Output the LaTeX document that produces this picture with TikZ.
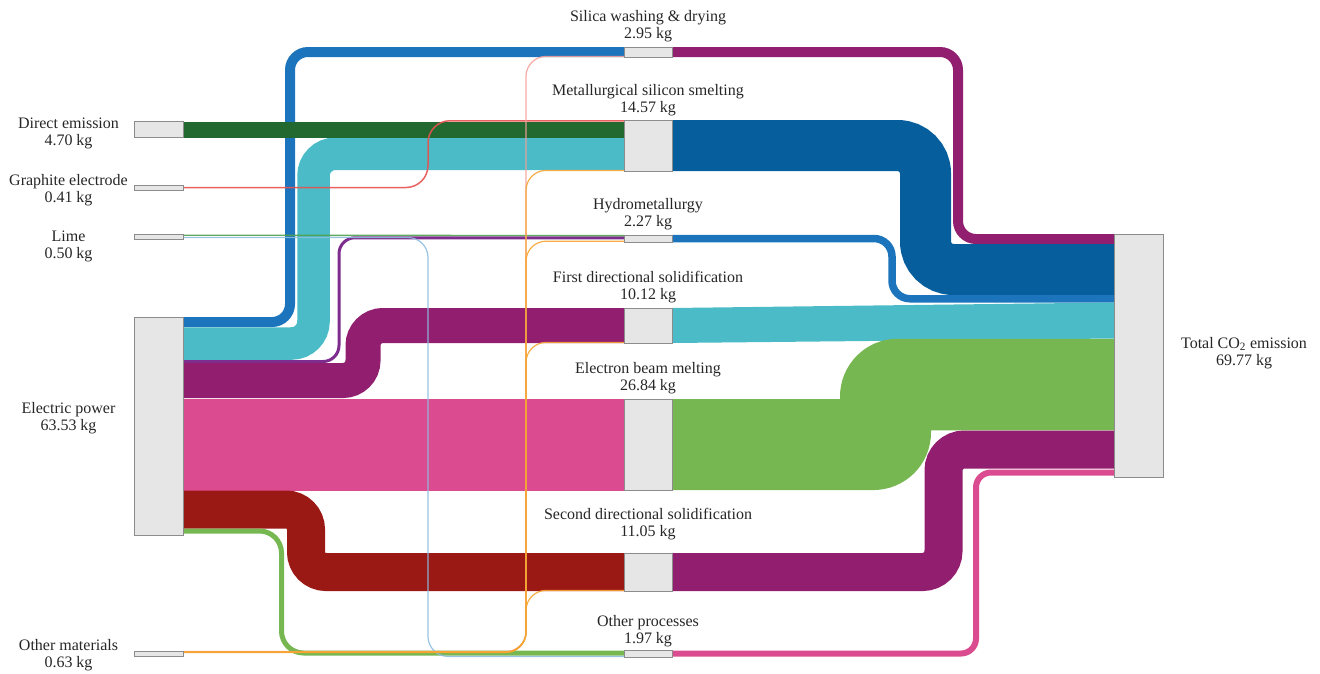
\documentclass[tikz,border=0pt]{standalone}
\usepackage{fontspec}
\setmainfont{Liberation Serif}
\usetikzlibrary{calc,backgrounds}
\definecolor{cBlue}{HTML}{1C75BC}
\definecolor{cCyan}{HTML}{4BBCC7}
\definecolor{cDGreen}{HTML}{22692F}
\definecolor{cRed}{HTML}{E8514F}
\definecolor{cPurple}{HTML}{921E70}
\definecolor{cViolet}{HTML}{7E2C8E}
\definecolor{cPink}{HTML}{DB4B8F}
\definecolor{cDRed}{HTML}{9B1915}
\definecolor{cGreen}{HTML}{76B751}
\definecolor{cNavy}{HTML}{075E9C}
\definecolor{cLime}{HTML}{4FA24F}
\definecolor{cLBlue}{HTML}{8DBCE0}
\definecolor{cOrange}{HTML}{F6A532}
\definecolor{cSalmon}{HTML}{F4A09A}
\definecolor{boxfill}{HTML}{E6E6E6}
\definecolor{boxline}{HTML}{8C8C8C}
\tikzset{
  box/.style={draw=boxline, fill=boxfill, line width=1pt, inner sep=0pt, outer sep=0pt, minimum width=49pt},
  mbox/.style={box, minimum width=48pt},
  lab/.style={align=center, inner sep=0pt, font=\fontsize{16}{17}\selectfont, text=black!85},
  band/.style={line cap=butt, line join=miter},
  wire/.style={line cap=butt, draw opacity=0.9},
}
\begin{document}
\begin{tikzpicture}[x=1pt,y=-1pt]
\useasboundingbox (0,0) rectangle (1320,673);
% left column
\node[box, minimum height=16pt] (de) at (158.5,129.5) {};
\node[box, minimum height=5pt] (ge) at (158.5,187.5) {};
\node[box, minimum height=5pt] (li) at (158.5,236.5) {};
\node[box, minimum height=218pt] (ep) at (158.5,426) {};
\node[box, minimum height=5pt] (om) at (158.5,653.5) {};
% middle column
\node[mbox, minimum height=10pt] (sw) at (648,52) {};
\node[mbox, minimum height=51pt] (ms) at (648,145.5) {};
\node[mbox, minimum height=7pt] (hy) at (648,238.5) {};
\node[mbox, minimum height=35pt] (fd) at (648,325.5) {};
\node[mbox, minimum height=91pt] (eb) at (648,444.5) {};
\node[mbox, minimum height=38pt] (sd) at (648,572) {};
\node[mbox, minimum height=7pt] (op) at (648,653.5) {};
% right
\node[box, minimum height=243pt] (tot) at (1138.5,355.5) {};

\begin{scope}[on background layer]
% electric power outputs
\draw[band, cBlue, line width=10pt, rounded corners=18pt] ($(ep.north east)+(0,5)$) -- ++(107,0) |- ($(sw.north west)+(0,5)$);
\draw[band, cCyan, line width=32.5pt, rounded corners=22pt] ($(ep.north east)+(0,26.5)$) -- ++(130.5,0) |- ($(ms.north west)+(0,33.75)$);
\draw[band, cViolet, line width=3pt, rounded corners=16pt] ($(ep.north east)+(0,44.5)$) -- ++(156,0) |- ($(hy.north west)+(0,2.75)$);
\draw[band, cPurple, line width=35pt, rounded corners=20pt] ($(ep.north east)+(0,63.5)$) -- ++(180,0) |- ($(fd.north west)+(0,17.5)$);
\draw[band, cPink, line width=92pt] ($(ep.north east)+(0,127.5)$) -- (eb.west);
\draw[band, cDRed, line width=38pt, rounded corners=20pt] ($(ep.north east)+(0,192.5)$) -- ++(123,0) |- (sd.west);
\draw[band, cGreen, line width=5pt, rounded corners=22pt] ($(ep.north east)+(0,214)$) -- ++(98.5,0) |- ($(op.north west)+(0,3)$);
% direct emission
\draw[band, cDGreen, line width=16pt] (de.east) -- ($(ms.north west)+(0,9.5)$);
% middle to total
\draw[band, cPurple, line width=10pt, rounded corners=18pt] (sw.east) -- ++(286,0) |- ($(tot.north west)+(0,5)$);
\draw[band, cNavy, line width=51pt, rounded corners=28pt] (ms.east) -- ++(253.5,0) |- ($(tot.north west)+(0,35.5)$);
\draw[band, cBlue, line width=7.5pt, rounded corners=18pt] (hy.east) -- ++(220,0) |- ($(tot.north west)+(0,64.75)$);
\fill[cCyan] (fd.north east) -- ($(tot.north west)+(0,68.5)$) -- ($(tot.north west)+(0,104.5)$) -- (fd.south east) -- cycle;
\fill[cGreen] (eb.north east) -- (840,399) -- (840,396.5)
  .. controls (840,364.74) and (865.74,338.75) .. (897.5,338.75)
  -- ($(tot.north west)+(0,104.75)$) -- ($(tot.north west)+(0,196.25)$)
  -- (931,430.25) -- (931,432.5)
  .. controls (931,464.26) and (905.26,490) .. (873.5,490)
  -- (eb.south east) -- cycle;
\draw[band, cPurple, line width=38pt, rounded corners=21pt] (sd.east) -- ++(271.5,0) |- ($(tot.north west)+(0,215.5)$);
\draw[band, cPink, line width=6pt, rounded corners=15pt] (op.east) -- ++(304,0) |- ($(tot.north west)+(0,238.5)$);
% thin links
\draw[wire, cRed, line width=1.5pt, rounded corners=22pt] (ge.east) -- ++(245,0) |- ($(ms.north west)+(0,0.75)$);
\draw[wire, cLime, line width=1.4pt] ($(li.north east)+(0,1.2)$) -- ($(hy.north west)+(0,0.6)$);
\draw[wire, cLBlue, line width=1.2pt, rounded corners=20pt] ($(li.north east)+(0,3.5)$) -- ++(245,0) |- ($(op.north west)+(0,6.4)$);
\draw[wire, cSalmon, line width=1.2pt, rounded corners=20pt] ($(om.north east)+(0,0.5)$) -- ++(343,0) |- ($(sw.north west)+(0,9.4)$);
\draw[wire, cOrange, line width=1.2pt, rounded corners=20pt] ($(om.north east)+(0,1)$) -- ++(343,0) |- ($(ms.north west)+(0,50.4)$);
\draw[wire, cOrange, line width=1.2pt, rounded corners=20pt] ($(om.north east)+(0,1)$) -- ++(343,0) |- ($(hy.north west)+(0,6.2)$);
\draw[wire, cOrange, line width=1.2pt, rounded corners=20pt] ($(om.north east)+(0,1)$) -- ++(343,0) |- ($(fd.north west)+(0,34.4)$);
\draw[wire, cOrange, line width=1.2pt, rounded corners=20pt] ($(om.north east)+(0,1.5)$) -- ++(343,0) |- ($(sd.north west)+(0,37.4)$);
\end{scope}

% labels
\node[lab] (de-l) at (68.5,133) {Direct emission\\4.70 kg};
\node[lab] (ge-l) at (68.5,190) {Graphite electrode\\0.41 kg};
\node[lab] (li-l) at (68.5,246) {Lime\\0.50 kg};
\node[lab] (ep-l) at (68.5,418) {Electric power\\63.53 kg};
\node[lab] (om-l) at (68.5,655) {Other materials\\0.63 kg};
\node[lab] (sw-l) at (648,26) {Silica washing \& drying\\2.95 kg};
\node[lab] (ms-l) at (648,100) {Metallurgical silicon smelting\\14.57 kg};
\node[lab] (hy-l) at (648,214) {Hydrometallurgy\\2.27 kg};
\node[lab] (fd-l) at (648,287) {First directional solidification\\10.12 kg};
\node[lab] (eb-l) at (648,378) {Electron beam melting\\26.84 kg};
\node[lab] (sd-l) at (648,524) {Second directional solidification\\11.05 kg};
\node[lab] (op-l) at (648,631) {Other processes\\1.97 kg};
\node[lab] (tot-l) at (1244,353) {Total CO\textsubscript{2} emission\\69.77 kg};
\end{tikzpicture}
\end{document}
